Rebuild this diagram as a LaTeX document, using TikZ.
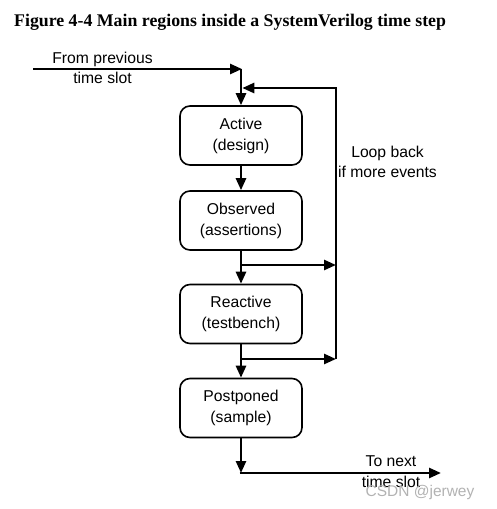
\documentclass[tikz,border=0pt]{standalone}
\usepackage{fontspec}
\setmainfont{Liberation Sans}
\newfontfamily\titlefont{Liberation Serif}
\usetikzlibrary{arrows.meta}
\begin{document}
\begin{tikzpicture}[x=1pt,y=-1pt,
  lbl/.style={font=\fontsize{15.7}{20.5}\selectfont, align=center, inner sep=0pt},
  region/.style={draw, line width=1.6pt, rounded corners=10pt, minimum width=122pt, minimum height=59pt, inner sep=0pt, font=\fontsize{15.7}{21}\selectfont, align=center},
  flow/.style={line width=2.6pt, -{Triangle[length=12pt,width=10pt]}},
  wire/.style={line width=2.6pt}
]
\useasboundingbox (0,0) rectangle (497,509);
\node[anchor=base west, inner sep=0pt, font=\titlefont\bfseries\fontsize{17.8}{20}\selectfont] (title) at (14,26) {Figure 4-4 Main regions inside a SystemVerilog time step};

\node[region] (active) at (241,135.5) {Active\\(design)};
\node[region] (observed) at (241,220.5) {Observed\\(assertions)};
\node[region] (reactive) at (241,314) {Reactive\\(testbench)};
\node[region] (postponed) at (241,408) {Postponed\\(sample)};

\coordinate (start) at (33,69);
\coordinate (join) at (241,69);
\coordinate (loopin) at (241,88);
\coordinate (looptop) at (336,88);
\coordinate (b1) at (241,265);
\coordinate (b1r) at (336,265);
\coordinate (b2) at (241,359);
\coordinate (b2r) at (336,359);
\coordinate (bot) at (241,473);
\coordinate (out) at (441,473);

\draw[flow, shorten >=-1pt] (start) -- (join);
\draw[flow] (join) -- (active.north);
\draw[flow] (b2r) -- (looptop) -- ([xshift=1.3pt]loopin);
\draw[flow] (active.south) -- (observed.north);
\draw[flow] (observed.south) -- (reactive.north);
\draw[flow] (b1) -- (b1r);
\draw[flow] (reactive.south) -- (postponed.north);
\draw[flow] (b2) -- (b2r);
\draw[flow] (postponed.south) -- (bot);
\draw[flow] ([xshift=-1.3pt]bot) -- (out);

\node[lbl] (fromlbl) at (102.5,68) {From previous\\time slot};
\node[lbl] (looplbl) at (387.5,162) {Loop back\\if more events};
\node[lbl] (tolbl) at (391,471.5) {To next\\time slot};
\node[anchor=base, inner sep=0pt, text=black!30, font=\fontsize{15.5}{18}\selectfont] (wm) at (420,496) {CSDN @jerwey};
\end{tikzpicture}
\end{document}
